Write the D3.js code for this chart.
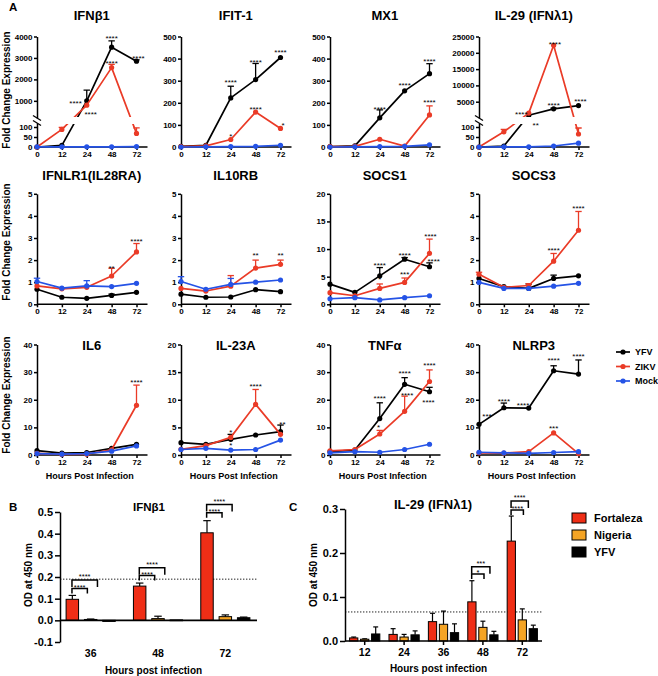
<!DOCTYPE html>
<html>
<head>
<meta charset="utf-8">
<script src="https://cdn.jsdelivr.net/npm/d3@7"></script>
<style>
  body { margin: 0; background: #fff; }
  svg { display: block; font-family: "Liberation Sans", Arial, Helvetica, sans-serif; font-weight: bold; }
</style>
</head>
<body>
<svg id="fig" width="658" height="676"></svg>
<script>
// ---- panel A data: fold change, mean and upper SD, per panel ----
var times = ['0', '12', '24', '48', '72'];
var titles = ['IFNβ1', 'IFIT-1', 'MX1', 'IL-29 (IFNλ1)', 'IFNLR1(IL28RA)', 'IL10RB',
  'SOCS1', 'SOCS3', 'IL6', 'IL-23A', 'TNFα', 'NLRP3'];
var yMax = [4000, 500, 500, 25000, 5, 5, 20, 5, 40, 20, 40, 40];
var yStep = [1000, 100, 100, 5000, 1, 1, 5, 1, 10, 5, 10, 10];
var breakFrom = [200, null, null, 0, null, null, null, null, null, null, null, null];
var lowTicks = [0, 50, 100];
var lowMax = 120;

var yfv = [
  [0, 8, 1000, 3500, 2850],
  [3, 8, 222, 305, 405],
  [2, 5, 132, 254, 332],
  [0, 5, 850, 2800, 3800],
  [0.68, 0.32, 0.27, 0.40, 0.54],
  [0.46, 0.32, 0.33, 0.66, 0.57],
  [3.65, 2.16, 5.15, 8.16, 6.8],
  [1.17, 0.80, 0.72, 1.17, 1.29],
  [1.55, 0.7, 0.9, 2.4, 3.86],
  [2.23, 1.93, 2.83, 3.62, 4.22],
  [1.2, 1.8, 13.2, 25.6, 22.9],
  [11.1, 17.1, 17.0, 30.5, 29.3]
];
var yfvErr = [
  [0, 0, 500, 300, 60],
  [0, 0, 53, 73, 0],
  [0, 0, 36, 0, 45],
  [0, 0, 0, 250, 0],
  [0, 0, 0, 0.06, 0],
  [0, 0, 0, 0, 0],
  [0, 0, 1.5, 0.3, 0.7],
  [0, 0, 0.2, 0.15, 0],
  [0, 0, 0, 0, 0],
  [0, 0, 0.9, 0, 1.2],
  [0, 0, 5.7, 2.4, 1.6],
  [0, 1.7, 0, 1.8, 5.1]
];
var zikv = [
  [0, 88, 800, 2550, 68],
  [2, 5, 34, 158, 84],
  [2, 3, 35, 4, 145],
  [0, 76, 1500, 22300, 65],
  [0.83, 0.70, 0.77, 1.28, 2.37],
  [0.72, 0.60, 0.82, 1.64, 1.81],
  [2.1, 1.55, 2.88, 3.96, 9.2],
  [1.36, 0.77, 0.85, 1.95, 3.35],
  [0.6, 0.2, 0.3, 1.9, 18.0],
  [1.03, 1.69, 3.19, 9.16, 3.74],
  [1.5, 2.0, 7.6, 15.8, 26.6],
  [0.8, 0.7, 1.2, 8.0, 0.5]
];
var zikvErr = [
  [0, 10, 0, 150, 28],
  [0, 0, 0, 0, 0],
  [0, 0, 0, 0, 41],
  [0, 12, 0, 0, 30],
  [0, 0, 0, 0.35, 0.38],
  [0, 0, 0.48, 0.36, 0.19],
  [0, 0, 0.8, 0.8, 2.6],
  [0.09, 0, 0.08, 0.35, 0.85],
  [0, 0, 0, 0, 7.3],
  [0, 0, 0, 2.7, 0],
  [0, 0, 1.3, 5.5, 4.2],
  [0, 0, 0, 0, 0]
];
var mock = [
  [1, 1, 1, 1, 2],
  [0, 1, 2, 3, 8],
  [0, 1, 2, 3, 10],
  [0, 1, 1, 5, 19],
  [1.03, 0.73, 0.83, 0.80, 0.95],
  [1.03, 0.68, 0.90, 1.0, 1.1],
  [1.0, 1.2, 0.8, 1.2, 1.55],
  [0.99, 0.72, 0.72, 0.82, 0.95],
  [0.5, 0.3, 0.5, 1.4, 3.3],
  [1.0, 1.2, 0.9, 1.0, 2.7],
  [0.8, 1.2, 1.0, 2.0, 3.9],
  [1.0, 0.8, 0.6, 0.9, 1.2]
];
var mockErr = [
  [0, 0, 0, 0, 0], [0, 0, 0, 0, 0], [0, 0, 0, 0, 0], [0, 0, 0, 0, 0],
  [0.15, 0, 0.24, 0, 0], [0.22, 0, 0.27, 0, 0], [0, 0, 0, 0, 0], [0, 0, 0, 0, 0],
  [0, 0, 0, 0, 0], [0, 0, 0, 0, 0], [0, 0, 0, 0, 0], [0, 0, 0, 0, 0]
];
// significance marks: [time index, value, text, shift in time steps]
var stars = [
  [[2, 962, '****', -0.45], [2, 448, '****', 0.16], [3, 4000, '****', 0], [3, 2830, '****', 0], [4, 3065, '****', 0.08]],
  [[2, 299, '****', 0], [3, 392, '****', 0], [4, 438, '****', 0], [3, 177, '****', 0], [2, 56, '*', 0], [4, 105, '*', 0.1]],
  [[2, 177, '****', 0], [3, 286, '****', 0], [4, 397, '****', 0], [4, 208, '****', 0]],
  [[2, 1630, '****', -0.3], [2, 118, '**', 0.28], [3, 4520, '****', 0], [4, 5750, '****', 0.08], [3, 23280, '****', 0.05]],
  [[3, 1.7, '**', 0], [4, 2.92, '****', 0]],
  [[3, 2.28, '**', 0], [4, 2.28, '**', 0]],
  [[2, 7.4, '****', 0], [3, 9.2, '****', 0], [3, 5.7, '***', 0], [2, 4.9, '*', 0], [4, 12.7, '****', 0.04], [4, 8.1, '****', 0.17]],
  [[3, 2.52, '****', 0], [4, 4.44, '****', 0]],
  [[4, 27.1, '****', 0]],
  [[2, 4.34, '*', 0], [2, 2.0, '*', 0], [3, 12.66, '****', 0], [4, 5.9, '**', 0.08]],
  [[2, 21.0, '****', 0], [2, 10.5, '*', -0.05], [3, 30.3, '****', 0], [3, 22.3, '****', 0.1], [4, 33.1, '****', 0], [4, 19.6, '****', -0.04]],
  [[0, 14.7, '***', 0.32], [1, 20.2, '****', 0], [2, 18.7, '****', -0.23], [3, 34.9, '****', 0], [4, 36.4, '****', 0], [3, 10.2, '***', 0]]
];
var seriesNames = ['YFV', 'ZIKV', 'Mock'];
var seriesColors = ['#000000', '#ea3b27', '#2553e6'];

// ---- panel B / C data: OD at 450 nm ----
var strainNames = ['Fortaleza', 'Nigeria', 'YFV'];
var strainColors = ['#ef2e16', '#f5a424', '#000000'];
var bGroups = ['36', '48', '72'];
var bFortaleza = [0.097, 0.158, 0.404];
var bFortalezaErr = [0.018, 0.014, 0.056];
var bNigeria = [0.004, 0.008, 0.017];
var bNigeriaErr = [0.002, 0.011, 0.008];
var bYfv = [-0.005, 0.002, 0.012];
var bYfvErr = [0, 0, 0.003];
var bTicks = [-0.1, 0, 0.1, 0.2, 0.3, 0.4, 0.5];
var bCutoff = 0.19;
// brackets: [group index, level, end position (series units), label]
var bBrackets = [[0, 0.186, 1.37, '****'], [0, 0.147, 0.82, '****'],
  [1, 0.243, 1.37, '****'], [1, 0.207, 0.82, '****'],
  [2, 0.535, 1.37, '****'], [2, 0.496, 0.82, '****']];

var cGroups = ['12', '24', '36', '48', '72'];
var cFortaleza = [0.007, 0.015, 0.044, 0.089, 0.227];
var cFortalezaErr = [0.002, 0.013, 0.019, 0.048, 0.057];
var cNigeria = [0.004, 0.009, 0.038, 0.031, 0.048];
var cNigeriaErr = [0.001, 0.006, 0.030, 0.014, 0.025];
var cYfv = [0.016, 0.014, 0.019, 0.014, 0.028];
var cYfvErr = [0.016, 0.009, 0.020, 0.008, 0.008];
var cTicks = [0, 0.1, 0.2, 0.3];
var cCutoff = 0.066;
var cBrackets = [[3, 0.169, 1.64, '***'], [3, 0.152, 1.1, '*'],
  [4, 0.318, 1.55, '****'], [4, 0.298, 1.1, '****']];

// ---- drawing ----
var svg = d3.select('#fig');
var FONT = '"Liberation Sans", Arial, Helvetica, sans-serif';
var defs = svg.append('defs');

function styleAxis(sel, size) {
  sel.attr('font-family', FONT).attr('font-size', size).attr('font-weight', 'bold');
  sel.selectAll('path, line').attr('stroke', '#000').attr('stroke-width', 1.5);
  sel.selectAll('text').attr('fill', '#000');
}

var colLeft = [37, 181, 330, 479];
var rowBottom = [147, 304.3, 455];
var titleY = [15, 175, 345];
var plotH = 110.5, plotW = 99.5;

titles.forEach(function (title, p) {
  var row = Math.floor(p / 4), col = p % 4;
  var x0 = colLeft[col], y0 = rowBottom[row];
  var g = svg.append('g').attr('transform', 'translate(' + x0 + ',' + y0 + ')');
  var x = d3.scalePoint().domain(times).range([0, plotW]);
  var broken = breakFrom[p] !== null;
  var yMain, yLow, yPos;

  if (broken) {
    yLow = d3.scaleLinear().domain([0, lowMax]).range([0, -24]);
    yMain = d3.scaleLinear().domain([breakFrom[p], yMax[p]]).range([-29, -plotH]);
    yPos = function (v) { return v <= lowMax ? yLow(v) : yMain(v); };
  } else {
    yMain = d3.scaleLinear().domain([0, yMax[p]]).range([0, -plotH]);
    yPos = yMain;
  }

  // Y axis
  var ticks = d3.range(broken ? yStep[p] : 0, yMax[p] + yStep[p] / 2, yStep[p]);
  var ya = g.append('g').call(d3.axisLeft(yMain).tickValues(ticks).tickSize(3)
    .tickSizeOuter(0).tickPadding(1.5).tickFormat(d3.format('d')));
  styleAxis(ya, 8);
  if (broken) {
    var yl = g.append('g').call(d3.axisLeft(yLow).tickValues(lowTicks).tickSize(3)
      .tickSizeOuter(0).tickPadding(1.5).tickFormat(d3.format('d')));
    styleAxis(yl, 8);
    [-29, -24].forEach(function (yb) {
      g.append('line').attr('x1', -4).attr('x2', 4).attr('y1', yb - 2.5).attr('y2', yb + 2.5)
        .attr('stroke', '#000').attr('stroke-width', 1.3);
    });
  }

  // X axis
  g.append('line').attr('x1', 0).attr('x2', plotW + 11).attr('y1', 0).attr('y2', 0)
    .attr('stroke', '#000').attr('stroke-width', 1.5);
  var xa = g.append('g').call(d3.axisBottom(x).tickSize(3).tickPadding(1.5));
  xa.select('.domain').remove();
  styleAxis(xa, 8);

  // data layer (clipped around the axis break)
  var dg = g.append('g');
  if (broken) {
    var cp = defs.append('clipPath').attr('id', 'clip' + p);
    cp.append('rect').attr('x', -10).attr('y', -plotH - 20).attr('width', plotW + 30).attr('height', plotH + 20 - 30);
    cp.append('rect').attr('x', -10).attr('y', -23).attr('width', plotW + 30).attr('height', 33);
    dg.attr('clip-path', 'url(#clip' + p + ')');
  }

  var means = [yfv[p], zikv[p], mock[p]];
  var errs = [yfvErr[p], zikvErr[p], mockErr[p]];
  var line = d3.line()
    .x(function (d, i) { return x(times[i]); })
    .y(function (d) { return yPos(d); });

  means.forEach(function (vals, s) {
    var color = seriesColors[s];
    var sg = dg.append('g');
    vals.forEach(function (v, i) {
      var e = errs[s][i];
      if (!e) return;
      var cx = x(times[i]);
      sg.append('line').attr('x1', cx).attr('x2', cx).attr('y1', yPos(v)).attr('y2', yPos(v + e))
        .attr('stroke', color).attr('stroke-width', 1.3);
      sg.append('line').attr('x1', cx - 3.2).attr('x2', cx + 3.2).attr('y1', yPos(v + e)).attr('y2', yPos(v + e))
        .attr('stroke', color).attr('stroke-width', 1.3);
    });
    sg.append('path').datum(vals).attr('d', line).attr('fill', 'none')
      .attr('stroke', color).attr('stroke-width', 1.7).attr('stroke-linejoin', 'round');
    sg.selectAll('circle').data(vals).enter().append('circle')
      .attr('cx', function (d, i) { return x(times[i]); })
      .attr('cy', function (d) { return yPos(d); })
      .attr('r', 2.6).attr('fill', color);
  });

  // significance marks
  stars[p].forEach(function (st) {
    g.append('text')
      .attr('x', x(times[st[0]]) + st[3] * x.step())
      .attr('y', yPos(st[1]))
      .attr('dy', '0.55em')
      .attr('text-anchor', 'middle')
      .attr('font-size', 8).attr('font-weight', 'normal')
      .text(st[2]);
  });

  // title
  svg.append('text').attr('x', x0 + plotW / 2 + 5).attr('y', titleY[row] + 4.6)
    .attr('text-anchor', 'middle').attr('font-size', 13).text(title);

  if (row === 2) {
    svg.append('text').attr('x', x0 + plotW / 2 + 3).attr('y', 478.5)
      .attr('text-anchor', 'middle').attr('font-size', 9).text('Hours Post Infection');
  }
});

// y titles panel A
[90, 242, 395].forEach(function (cy) {
  svg.append('text').attr('transform', 'translate(10,' + cy + ') rotate(-90)')
    .attr('text-anchor', 'middle').attr('font-size', 10).text('Fold Change Expression');
});

// legend panel A
seriesNames.forEach(function (name, s) {
  var ly = [352, 366.5, 381][s];
  svg.append('line').attr('x1', 616).attr('x2', 630).attr('y1', ly).attr('y2', ly)
    .attr('stroke', seriesColors[s]).attr('stroke-width', 1.7);
  svg.append('circle').attr('cx', 623).attr('cy', ly).attr('r', 2.6).attr('fill', seriesColors[s]);
  svg.append('text').attr('x', 635).attr('y', ly + 3.3).attr('font-size', 9).text(name);
});

// panel letters
svg.append('text').attr('x', 9).attr('y', 11).attr('font-size', 11.5).text('A');
svg.append('text').attr('x', 9).attr('y', 511).attr('font-size', 11.5).text('B');
svg.append('text').attr('x', 289).attr('y', 511).attr('font-size', 11.5).text('C');

function drawBars(cfg) {
  var x = d3.scaleBand().domain(cfg.groups).range(cfg.xRange);
  var inner = d3.scaleBand().domain([0, 1, 2]).range([-cfg.half, cfg.half])
    .paddingInner(cfg.padIn).paddingOuter(cfg.padIn / 2);
  var y = d3.scaleLinear().domain(cfg.yDomain).range(cfg.yRange);
  var g = svg.append('g');
  var center = function (i) { return x(cfg.groups[i]) + x.bandwidth() / 2; };

  // cutoff
  g.append('line').attr('x1', cfg.axisX).attr('x2', cfg.axisX + cfg.axisLen)
    .attr('y1', y(cfg.cutoff)).attr('y2', y(cfg.cutoff))
    .attr('stroke', '#222').attr('stroke-width', 1).attr('stroke-dasharray', '1.4,1.6');

  // bars + error bars
  cfg.values.forEach(function (vals, s) {
    vals.forEach(function (v, i) {
      var bx = center(i) + inner(s);
      var bw = inner.bandwidth();
      var cx = bx + bw / 2;
      var e = cfg.errors[s][i];
      if (e) {
        var top = y(Math.max(v, 0) + e);
        g.append('line').attr('x1', cx).attr('x2', cx).attr('y1', y(v)).attr('y2', top)
          .attr('stroke', '#000').attr('stroke-width', 1.2);
        g.append('line').attr('x1', cx - bw * 0.3).attr('x2', cx + bw * 0.3).attr('y1', top).attr('y2', top)
          .attr('stroke', '#000').attr('stroke-width', 1.2);
      }
      g.append('rect').attr('x', bx).attr('width', bw)
        .attr('y', Math.min(y(v), y(0))).attr('height', Math.max(Math.abs(y(v) - y(0)), 0.8))
        .attr('fill', strainColors[s]).attr('stroke', '#000').attr('stroke-width', 1);
    });
  });

  // axes
  var ya = g.append('g').attr('transform', 'translate(' + cfg.axisX + ',0)')
    .call(d3.axisLeft(y).tickValues(cfg.ticks).tickSize(5).tickSizeOuter(0).tickPadding(2)
      .tickFormat(function (d) { return d.toFixed(1); }));
  styleAxis(ya, 11);
  g.append('line').attr('x1', cfg.axisX).attr('x2', cfg.axisX + cfg.axisLen)
    .attr('y1', y(0)).attr('y2', y(0)).attr('stroke', '#000').attr('stroke-width', 1.6);
  cfg.groups.forEach(function (lab, i) {
    if (cfg.xTicks) {
      g.append('line').attr('x1', center(i)).attr('x2', center(i)).attr('y1', y(0)).attr('y2', y(0) + 4)
        .attr('stroke', '#000').attr('stroke-width', 1.5);
    }
    g.append('text').attr('x', center(i)).attr('y', cfg.labelY).attr('text-anchor', 'middle')
      .attr('font-size', 10.5).text(lab);
  });

  // brackets: the wider one is the outer bracket, its label sits higher above the line
  cfg.brackets.forEach(function (b) {
    var cx = center(b[0]);
    var x1 = cx - inner.step() * 1.02;
    var x2 = cx + (b[2] - 1) * inner.step();
    var yy = y(b[1]);
    var outer = b[2] > 1.3;
    var drop = outer ? 7 : 5;
    g.append('path').attr('d', 'M' + x1 + ',' + (yy + drop) + 'V' + yy + 'H' + x2 + 'V' + (yy + drop))
      .attr('fill', 'none').attr('stroke', '#000').attr('stroke-width', 1.5);
    g.append('text').attr('x', (x1 + x2) / 2).attr('y', yy - (outer ? 5 : 3)).attr('dy', '0.55em')
      .attr('text-anchor', 'middle').attr('font-size', 7.5).attr('font-weight', 'normal').text(b[3]);
  });

  // titles
  svg.append('text').attr('x', cfg.titleX).attr('y', cfg.titleY).attr('text-anchor', 'middle')
    .attr('font-size', cfg.titleSize).text(cfg.title);
  svg.append('text').attr('x', cfg.axisX + cfg.axisLen / 2 - 5).attr('y', cfg.xTitleY)
    .attr('text-anchor', 'middle').attr('font-size', 10).text('Hours post infection');
  svg.append('text').attr('transform', 'translate(' + cfg.yTitleX + ',575) rotate(-90)')
    .attr('text-anchor', 'middle').attr('font-size', 10).text('OD at 450 nm');
}

drawBars({
  groups: bGroups,
  values: [bFortaleza, bNigeria, bYfv],
  errors: [bFortalezaErr, bNigeriaErr, bYfvErr],
  brackets: bBrackets,
  ticks: bTicks,
  cutoff: bCutoff,
  xRange: [57, 259], half: 27.5, padIn: 0.32,
  yDomain: [-0.1, 0.5], yRange: [642, 512],
  axisX: 60, axisLen: 197, labelY: 657, xTicks: false,
  title: 'IFNβ1', titleX: 149, titleY: 511, titleSize: 11.5,
  xTitleY: 674, yTitleX: 32
});

drawBars({
  groups: cGroups,
  values: [cFortaleza, cNigeria, cYfv],
  errors: [cFortalezaErr, cNigeriaErr, cYfvErr],
  brackets: cBrackets,
  ticks: cTicks,
  cutoff: cCutoff,
  xRange: [345, 542], half: 16.5, padIn: 0.25,
  yDomain: [0, 0.3], yRange: [641, 509],
  axisX: 345, axisLen: 197, labelY: 656, xTicks: true,
  title: 'IL-29 (IFNλ1)', titleX: 433, titleY: 508.5, titleSize: 13,
  xTitleY: 672, yTitleX: 317
});

// legend panel C
strainNames.forEach(function (name, s) {
  var ly = 518 + s * 17;
  svg.append('rect').attr('x', 572).attr('y', ly - 5).attr('width', 14).attr('height', 10)
    .attr('fill', strainColors[s]).attr('stroke', '#000').attr('stroke-width', 1);
  svg.append('text').attr('x', 594).attr('y', ly + 4).attr('font-size', 11).text(name);
});
</script>
</body>
</html>
